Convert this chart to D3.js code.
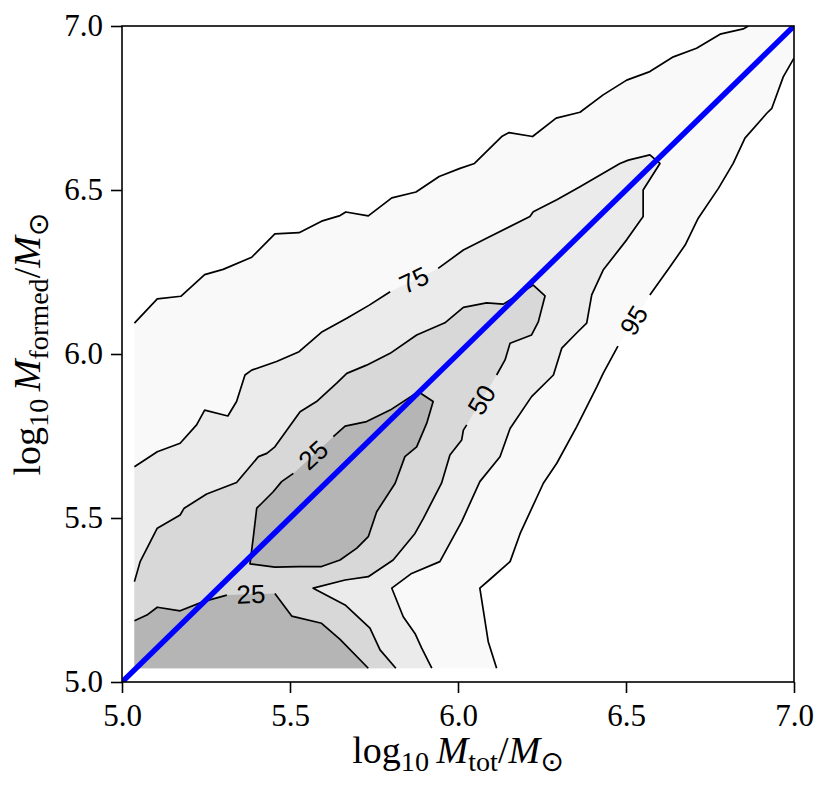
<!DOCTYPE html>
<html>
<head>
<meta charset="utf-8">
<script src="https://cdn.jsdelivr.net/npm/d3@7"></script>
<style>
  html, body { margin: 0; padding: 0; background: #fff; }
  svg { display: block; }
  .tick text { font-family: "Liberation Serif", "DejaVu Serif", serif; font-size: 31px; fill: #000; }
  .tick line { stroke: #000; stroke-width: 1.6; }
  .clab { font-family: "Liberation Sans", "DejaVu Sans", sans-serif; font-size: 26px; fill: #000; }
</style>
</head>
<body>
<div id="chart"></div>
<script>
const W = 830, H = 794;
const LEFT = 122, RIGHT = 794, TOP = 26, BOTTOM = 682;

// tick labels
var ticks = [5.0, 5.5, 6.0, 6.5, 7.0];

// lower-left corner of the histogram grid the contours come from
var gridMin = [5.037, 5.042];

// 95 per cent contour, upper branch (left edge -> top edge)
var c95Upper = [[5.037,6.094],[5.105,6.168],[5.175,6.176],[5.246,6.242],[5.301,6.258],[5.386,6.295],
  [5.455,6.366],[5.527,6.370],[5.594,6.405],[5.649,6.422],[5.666,6.433],[5.733,6.421],[5.803,6.476],
  [5.875,6.494],[5.944,6.541],[6.006,6.566],[6.049,6.581],[6.130,6.663],[6.152,6.675],[6.222,6.663],
  [6.292,6.719],[6.363,6.737],[6.432,6.790],[6.502,6.835],[6.571,6.861],[6.641,6.906],[6.710,6.932],
  [6.780,6.975],[6.849,6.991],[6.864,7.000]];
// 95 per cent contour, lower branch (right edge -> bottom edge), split at the label
var c95LowerA = [[7.000,6.902],[6.968,6.845],[6.934,6.749],[6.919,6.734],[6.854,6.658],[6.819,6.581],
  [6.775,6.505],[6.715,6.414],[6.676,6.332],[6.631,6.266],[6.571,6.180]];
var c95LowerB = [[6.476,6.024],[6.432,5.941],[6.413,5.900],[6.353,5.778],[6.294,5.667],[6.254,5.606],
  [6.185,5.453],[6.155,5.367],[6.093,5.311],[6.065,5.286],[6.090,5.123],[6.115,5.042]];

// 75 per cent contour
var c75A = [[5.037,5.656],[5.105,5.702],[5.173,5.728],[5.222,5.784],[5.246,5.829],[5.315,5.811],
  [5.341,5.855],[5.366,5.936],[5.386,5.951],[5.460,5.977],[5.527,6.007],[5.596,6.068],[5.669,6.109],
  [5.736,6.149],[5.798,6.190]];
var c75B = [[5.941,6.261],[6.016,6.317],[6.085,6.353],[6.214,6.419],[6.224,6.434],[6.294,6.470],
  [6.363,6.510],[6.432,6.551],[6.482,6.581],[6.507,6.591],[6.571,6.607],[6.601,6.581],[6.551,6.500],
  [6.551,6.419],[6.502,6.348],[6.432,6.256],[6.398,6.180],[6.383,6.094],[6.353,6.064],[6.309,6.018],
  [6.284,5.936],[6.219,5.870],[6.155,5.773],[6.125,5.687],[6.065,5.611],[6.011,5.489],[5.946,5.367],
  [5.862,5.331],[5.803,5.286],[5.837,5.199],[5.872,5.148],[5.892,5.103],[5.922,5.042]];

// 50 per cent contour
var c50A = [[5.037,5.306],[5.054,5.367],[5.105,5.469],[5.173,5.509],[5.185,5.530],[5.252,5.573],
  [5.341,5.608],[5.406,5.687],[5.431,5.697],[5.455,5.717],[5.530,5.824],[5.579,5.855],[5.639,5.911],
  [5.669,5.941],[5.728,5.966],[5.798,6.002],[5.877,6.058],[5.961,6.095],[6.016,6.142],[6.085,6.156],
  [6.135,6.152],[6.224,6.210],[6.259,6.177],[6.239,6.098],[6.219,6.058],[6.155,6.033],[6.140,5.982],
  [6.115,5.936]];
var c50B = [[6.026,5.784],[6.016,5.768],[6.011,5.738],[5.976,5.692],[5.951,5.606],[5.897,5.499],
  [5.872,5.453],[5.807,5.372],[5.733,5.321],[5.664,5.311],[5.569,5.286],[5.664,5.235],[5.738,5.164],
  [5.768,5.098],[5.815,5.042]];

// 25 per cent contours: closed island on the diagonal, and the patch in the lower-left corner
var c25Island = [[5.629,5.748],[5.664,5.780],[5.728,5.794],[5.798,5.829],[5.882,5.885],[5.926,5.855],
  [5.907,5.789],[5.877,5.717],[5.842,5.687],[5.813,5.606],[5.758,5.519],[5.733,5.443],[5.699,5.408],
  [5.649,5.372],[5.594,5.352],[5.525,5.352],[5.455,5.350],[5.381,5.360],[5.386,5.402],[5.391,5.443],
  [5.401,5.530],[5.416,5.545],[5.450,5.580],[5.475,5.611],[5.510,5.636]];
var c25LowA = [[5.037,5.187],[5.074,5.204],[5.105,5.228],[5.173,5.217],[5.242,5.245],[5.312,5.265]];
var c25LowB = [[5.455,5.270],[5.505,5.201],[5.594,5.179],[5.649,5.130],[5.733,5.042]];

// the one-to-one line
var oneToOne = [[5, 5], [7, 7]];

var x = d3.scaleLinear().domain([5, 7]).range([LEFT, RIGHT]);
var y = d3.scaleLinear().domain([5, 7]).range([BOTTOM, TOP]);

var line = d3.line().x(d => x(d[0])).y(d => y(d[1]));

var svg = d3.select("#chart").append("svg")
  .attr("width", W)
  .attr("height", H);

svg.append("clipPath").attr("id", "plotclip")
  .append("rect")
  .attr("x", LEFT).attr("y", TOP)
  .attr("width", RIGHT - LEFT).attr("height", BOTTOM - TOP);

var plot = svg.append("g").attr("clip-path", "url(#plotclip)");

// filled bands, outermost first
var fills = [
  { pts: c95Upper.concat([[7, 7]], c95LowerA, c95LowerB, [gridMin]), color: "#f9f9f9" },
  { pts: c75A.concat(c75B, [gridMin]), color: "#ebebeb" },
  { pts: c50A.concat(c50B, [gridMin]), color: "#d8d8d8" },
  { pts: c25Island, color: "#b5b5b5" },
  { pts: c25LowA.concat(c25LowB, [gridMin]), color: "#b5b5b5" }
];

plot.selectAll("path.band")
  .data(fills)
  .enter()
  .append("path")
  .attr("class", "band")
  .attr("d", d => line(d.pts) + "Z")
  .attr("fill", d => d.color)
  .attr("stroke", "none");

var pieces = [c95Upper, c95LowerA, c95LowerB, c75A, c75B, c50A, c50B, c25Island, c25LowA, c25LowB];

plot.selectAll("path.cline")
  .data(pieces)
  .enter()
  .append("path")
  .attr("class", "cline")
  .attr("d", line)
  .attr("fill", "none")
  .attr("stroke", "#000")
  .attr("stroke-width", 1.7)
  .attr("stroke-linejoin", "round");

// contour labels sit in the gap between two pieces
var labels = [
  ["95", c95LowerA, c95LowerB],
  ["75", c75A, c75B],
  ["50", c50A, c50B],
  ["25", c25Island, c25Island],
  ["25", c25LowA, c25LowB]
];

var labelPos = (l) => {
  var p = l[1][l[1].length - 1], q = l[2][0];
  var x1 = x(p[0]), y1 = y(p[1]), x2 = x(q[0]), y2 = y(q[1]);
  var ang = Math.atan2(y2 - y1, x2 - x1) * 180 / Math.PI;
  if (ang > 90) ang -= 180;
  if (ang < -90) ang += 180;
  return { cx: (x1 + x2) / 2, cy: (y1 + y2) / 2, ang: ang };
}

plot.selectAll("text.clab")
  .data(labels)
  .enter()
  .append("text")
  .attr("class", "clab")
  .text(d => d[0])
  .attr("text-anchor", "middle")
  .attr("dominant-baseline", "central")
  .attr("transform", d => {
    var p = labelPos(d);
    return "translate(" + p.cx + "," + p.cy + ") rotate(" + p.ang + ")";
  });

plot.append("path")
  .datum(oneToOne)
  .attr("d", line)
  .attr("stroke", "#0000ff")
  .attr("stroke-width", 5.5)
  .attr("fill", "none");

// axes
svg.append("g")
  .attr("transform", "translate(0," + BOTTOM + ")")
  .call(d3.axisBottom(x).tickValues(ticks).tickFormat(d3.format(".1f"))
    .tickSize(11).tickSizeOuter(0).tickPadding(11))
  .call(g => g.select(".domain").remove());

svg.append("g")
  .attr("transform", "translate(" + LEFT + ",0)")
  .call(d3.axisLeft(y).tickValues(ticks).tickFormat(d3.format(".1f"))
    .tickSize(11).tickSizeOuter(0).tickPadding(8))
  .call(g => g.select(".domain").remove());

svg.append("rect")
  .attr("x", LEFT).attr("y", TOP)
  .attr("width", RIGHT - LEFT).attr("height", BOTTOM - TOP)
  .attr("fill", "none")
  .attr("stroke", "#000")
  .attr("stroke-width", 1.6);

// axis titles with subscripts
var mathLabel = (sel, parts) => {
  var shifted = false;
  parts.forEach(p => {
    var t = sel.append("tspan").text(p.t);
    if (p.sub) {
      t.attr("font-size", "0.74em");
      if (!shifted) { t.attr("dy", 8); shifted = true; }
    } else if (shifted) {
      t.attr("dy", -8); shifted = false;
    }
    if (p.it) t.attr("font-style", "italic");
    if (p.font) t.attr("font-family", p.font);
  });
}

var xTitle = svg.append("text")
  .attr("x", (LEFT + RIGHT) / 2)
  .attr("y", 763)
  .attr("text-anchor", "middle")
  .attr("font-family", "Liberation Serif, DejaVu Serif, serif")
  .attr("font-size", 38);
mathLabel(xTitle, [
  { t: "log" }, { t: "10", sub: true }, { t: "\u2009" }, { t: "M", it: true },
  { t: "tot", sub: true }, { t: "/" }, { t: "M", it: true },
  { t: "\u2299", sub: true, font: "DejaVu Sans" }
]);

var yTitle = svg.append("text")
  .attr("transform", "translate(40," + ((TOP + BOTTOM) / 2 - 10) + ") rotate(-90)")
  .attr("text-anchor", "middle")
  .attr("font-family", "Liberation Serif, DejaVu Serif, serif")
  .attr("font-size", 38);
mathLabel(yTitle, [
  { t: "log" }, { t: "10", sub: true }, { t: "\u2009" }, { t: "M", it: true },
  { t: "formed", sub: true }, { t: "/" }, { t: "M", it: true },
  { t: "\u2299", sub: true, font: "DejaVu Sans" }
]);
</script>
</body>
</html>
